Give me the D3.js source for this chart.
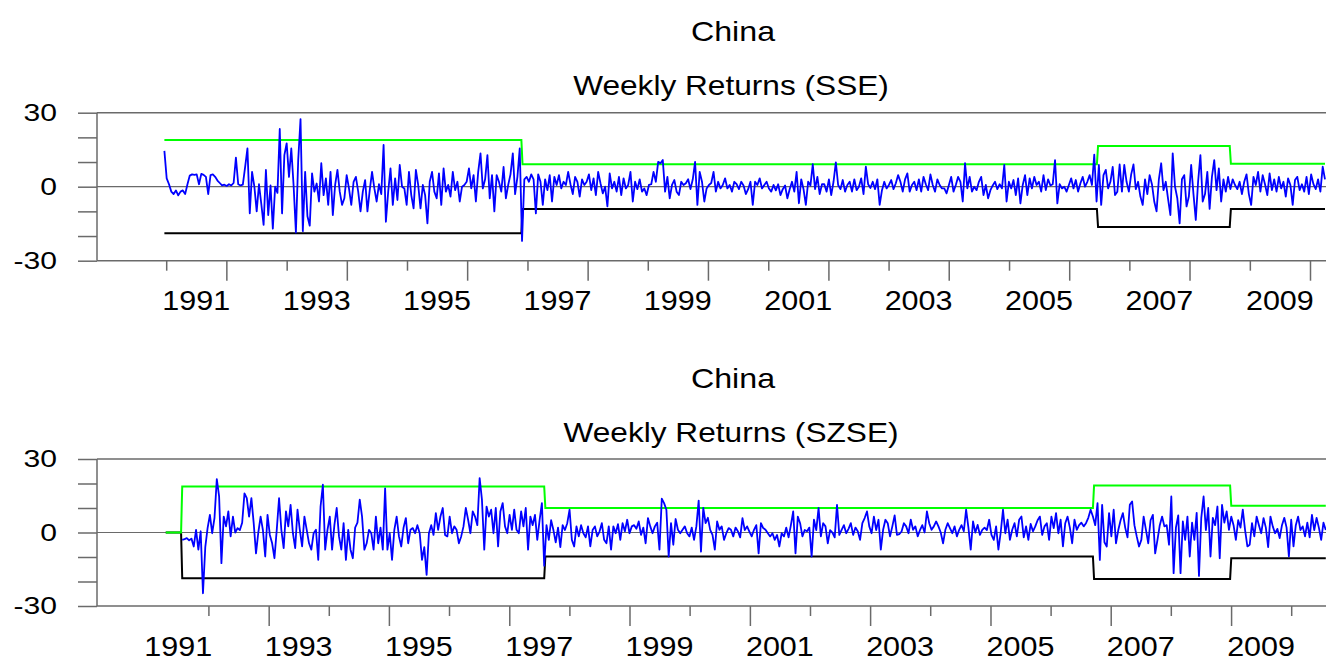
<!DOCTYPE html>
<html>
<head>
<meta charset="utf-8">
<script src="https://cdn.jsdelivr.net/npm/d3@7"></script>
<style>
  body { margin: 0; background: #fff; }
  text { font-family: "Liberation Sans", Arial, sans-serif; fill: #000; }
</style>
</head>
<body>
<svg id="chart" width="1326" height="661"></svg>
<script>
// SSE weekly returns (sampled every 2 weeks), one row per year
var sseStart = "1990-12-21";
var sseReturns = [
  14.5, 3.4, 1, -2, -3, -1.5, -3.5, -2, -1.5, -3, 1, 4.5, 5, 4.8, 5, 1, 5.2, 4.8, 4, -3, 4.7, 5, 4, 2.5, 1.5, 0.5,
  0.8, 0.3, 1, 0.5, 1.5, 11.8, 1, 0.5, 0.8, 8, 15.5, -10.8, 6, 0, -10, 1, -7, -15.5, 6.8, -11.5, 0.5, -17, 0, -2.5, 23.4, -10.8,
  12.8, 17.6, 4, 15.5, 0.5, -18.6, 10.8, 27.4, -18, 6, -12, -15.8, 5.4, -2, 1.3, -6, 9.5, -3.4, 3.4, -7.4, 6, -11.5, 0.7, 6.8, -2, -7.4,
  -4.7, 4.7, -0.7, -7.4, 2, 4, -2, -10, -2, 2.7, -10, -1.4, 6, -0.7, -6, 1, -3, 16.9, -14.2, -2, 7.4, -7.4, 3.4, -5.4, 8.8, 0,
  -0.7, -7.4, 6, -3.4, -8.8, 6.8, 0.7, -8.8, 0.7, -3.4, -14.9, 2, 6, -2, -4.7, 5.4, -7.4, 7.4, -2, 0.7, -4, 6, -1.4, 2, -6, 0,
  0.7, 2, 7.4, -0.7, 4.7, -6, 6, 13.5, -0.7, 3, 12.8, -4.7, 4.7, -10, 4.7, 2, -2, 8, -4.7, 0.7, 5, 13.5, -3, 4, 15.5, -22,
  3, 4, 2, 5, 3, -10.8, 5, 2, -7.4, 3, -1.4, 4.7, -6, 4, 0.7, 4.7, -0.7, 2, 0.7, 6, 1, -3, 4, 2, -4, 3,
  0.7, 2, 5, -1.4, 3.4, -3.4, 6, 1.4, -2.7, 0, -8, 5.4, -0.7, 2, -2, 4, -3.4, 3.4, -0.7, 0.7, 6, -6, 2, -1, 3, -2,
  -0.7, -3.4, 0.7, 1, 6, 2, 10.1, 9.5, 10.8, -2, 4, -4.7, 0.7, 2.7, -2, -3.4, 2, 0.7, 1.4, 3, -1, 3, 10.1, -7.4, 6, 2,
  -6, -0.7, 0.7, 1.5, 6, -2, 2, -0.7, 0.7, 3.4, -0.7, 0.7, -2, 2, 1, -1, 2, 0.5, -3, -1, 2, -7.4, 2, 0.7, 3.4, -0.7,
  0.7, 2, -0.7, -2, 0.7, -1.5, 1, -3.4, -1, 0.5, -4.7, -1, 2, -2, 6, -6.7, 3, -1, -7.4, 2, 0.5, 9.1, -1, 4, -3, 1,
  1, -2, 3, -3.4, 2, 9.9, 0.7, -1, 2.7, -2, 0.7, 2, -2, 3, -1.4, 0, 3.4, -3, 8.1, 1, -0.5, 2, -1, 3, -7.4, -1.4,
  2, -0.7, 0.7, 2.7, -1, 1.4, 4.7, 2, -2, 3, 5.4, -2, 0.7, 2, -1.4, 3, -2, 4, 1, -1.4, 5, 0.7, -2, 3, 0.7, -0.7,
  -0.7, -2.7, 0.7, 4, -2, 0.7, 4, 2, -6, 9.5, -0.7, 4, -2, 0, -1.4, 2, 4, -3.4, 0.7, -4.7, -1.4, 0.5, 2, -1, 1, -0.7,
  8.8, -6, 2, -0.7, 2.7, -3.4, 3.4, -6.8, 0.7, 4.7, -3.4, 3.4, -0.7, 4, 0.7, 2, -2, 4.7, -1.4, 3, 0.5, 1, 10.8, -6.8, 1, -0.7,
  0, -2, 0.7, 3.4, -0.7, 2.7, -2, 1.4, 4, 0, 2, 4.7, 0.7, 13, -6, 8.8, -7.4, 4.7, 6.8, -0.7, 2, 8, -3.4, -2, 9, -2,
  8.8, 2, -2, 5, 9, -1, 2, -4, -7.4, 3, -3, 4.7, 1, -6, -10, 3, 9.5, -1.4, 2, -5, -11.5, 13.5, 0, -4.7, -14.9, 3,
  4.7, -8, -4, 8.8, -3, -13.5, 2, 12.8, -6, -3, 6, -9, 4, 10.8, -1.4, 7.4, -6, 3, -2, 4, -1, 3, 0.7, -1, 2, -3,
  2, 5, -3, -7.4, 4, 0.7, 6, -2, 4.7, 1, -3.4, 5.4, -1.4, 3, -2, 4, -0.7, 2, -4, 3.4, 0.7, -7.4, 2.7, 4, -1.4, 1,
  -2, 4, -3, 5, 1, -1, 3, -2, 8.1, 3
];
var sseBandStart = ["1990-12-21", "1996-12-02", "2006-06-25", "2008-09-08"];
var sseUpper = [18.9, 9.1, 16.5, 9.3];
var sseLower = [-18.9, -9.0, -16.3, -9.0];

// SZSE weekly returns (sampled every 2 weeks)
var szseStart = "1991-07-26";
var szseReturns = [
  -3, -2.7, -2.3, -3.2, -2.5, -5.7, 1.1, -7, 0.5, -24.8, -6,
  1.8, 7.2, -0.3, 6, 21.8, 14.7, -12.5, 6.5, 2.5, 8.6, -1.6, 6.5, 0, 1.8, 1, 4, 16, 14, 6.5, 14, 3.8, -8.5, 0, 6.5, 1, -9.8,
  7.2, -1, -4.4, -10.5, 1.1, 14, 1, -6.4, 8.6, 2.5, 11.3, -0.3, -6.4, 9.3, 1.1, -5.7, 6.5, 1.1, -4.4, -7, -0.3, 1.1, -11.2, 10.6, 19.5, -7,
  1.1, 6.5, -7, 3, 10, -1.6, -7, 3.8, -11.2, 1.1, -7, -10.5, 2, 4, 13.4, 6.5, -7, -4.4, 1.1, -0.3, -7, 6.5, -4.4, 2, -7, 18,
  -7, -0.3, -11.2, 1.1, 6.5, -1.6, -5.7, 2, 5.9, -4.4, 1.1, 1.8, -0.3, 3, -0.3, -11.2, -6, -17.3, -0.3, 3, -1, 7.9, 1.1, 6.5, 10, -1,
  -1.6, 6.5, -0.3, 2.5, 1.1, -4.4, -1.6, 2.5, 10, 5.2, -0.3, 8.6, 6.5, 3, 22.2, 13.4, -7, 10.6, 6.5, 9.3, -0.3, 10, -5.7, 8.6, 12, 2.5,
  -0.3, 7.2, 1.1, 9.3, 1.1, -0.3, 8.6, 2.5, 10, -7, 6.5, 3, 7.2, -3, 5, 12, -13.6, 3, -3, 5, 1, -4, 2, -6, 3, 1,
  3.8, 9.3, -3, -5.7, 2.5, -1.6, 3, -0.3, -2, 2.5, -5.7, 1, 2.5, -1.6, 0.4, 3.8, -3, -4.4, 2.5, -7, 2.5, -0.3, 3.4, -3, 3.8, 0.5,
  5.2, -0.3, 2.5, 3, 1.5, 4.5, -1, 2, -4.4, 5.9, 2.5, -0.3, 2.5, 4, -7, 13.8, 12, 9.3, -9.8, 3.8, -5, 5.5, 1.1, -0.3, 1.1, 2.5,
  -0.3, -1.6, 2, -3, 2.5, 13, -7.8, 10, 3.8, 6, 1.1, -1, -7, 4.5, 1.1, 2.5, -3, -0.3, 1.8, 1.1, -1.6, 2, 0.5, -2, 5.9, 1,
  2.5, 0.4, -1.6, 1.1, 3, -8.5, 3.8, 1.8, 1.1, -0.3, -1.6, -0.3, -3, -1, -5.7, -0.3, -1.6, 2, -2, 3, 8.6, -8.5, 6.5, 3.8, -1.6, 1,
  0.5, 2, -9.8, 5.2, 1, 10, -1.6, 3.8, 2.5, -4.4, 1, 0, -2, 11.3, -1, 1.1, 3, -0.3, 1.5, 3.8, -1, 2, 0.5, -3, 3.8, 5.9,
  8.6, 2.5, -0.3, 6.5, 1, 5.2, -7, 1.1, 5.2, 3.8, -1.6, 2.5, 7, -1, -0.7, 0.4, 3.8, 2.5, -0.3, 5.2, 1.1, 2.5, -1.6, 1, 3, 0,
  8.6, 3.8, 1.1, 2.5, 4.5, 2.5, 0, -4.4, 1.1, 3.8, 1.8, -0.3, 2.5, -1.6, 1.1, 3, 0.5, 9.3, 2, -7, 4.5, 0, 3.1, -1, 1.1, 2,
  1, 5.2, -1, -3, 2.5, -7, 0, 9.3, -0.3, 5.2, -3, 1.1, 3.8, -1.6, 5.2, 6.5, -2, 2.5, -3, 3.5, 0.5, 2.5, 5, 6.5, -1, 2.5,
  3.8, -3, 6.5, 1.8, 7.9, -0.3, 5.2, -5.7, 3.8, 6.5, 2, -4.4, 5.2, 1.1, 3, 4, 2.5, 3.8, 6, 9.3, 6.5, 3, 12, -11.2, 11.3, -4,
  -5.7, 7.9, -1.6, 9.3, -4.4, 1, 5, 7.9, 2, -2, 11.3, 12.7, 3, -1.6, -5.7, -3, 6.5, 1.1, -4.4, 5, 7.2, -8.5, -3, 3, 6.5, 2.5,
  3, -5, 14.7, -16.6, 2, 7, -16.6, 4.5, -3, 6.5, -9.8, 4, -3, 8, -17.7, 6, 14.7, 1, 10, -9.8, 6, 3, 10.6, -10.5, 11.3, 4,
  8.6, 1.1, 6.5, 3, -3, 5, 2, 9.3, 1, -5.7, -5, 3.8, -1.6, 6.5, 3, -0.3, 5.9, 2, -6, 6.5, 2.5, -0.3, 1.5, -2.3, 3, 6,
  2, -9.8, 5.2, -5.7, 3, 6.5, 1, 2.5, -1.6, 4, -2, 7.2, 1, 6, 2, -3, 4, 1
];
var szseBandStart = ["1991-04-17", "1991-07-26", "1997-08-08", "2006-09-22", "2009-01-02"];
var szseUpper = [0, 18.8, 10.0, 19.2, 10.9];
var szseLower = [0, -18.7, -9.8, -19.0, -10.5];

var yTicks = [-30, -20, -10, 0, 10, 20, 30];
var yLabels = [-30, 0, 30];
var labelYears = [1991, 1993, 1995, 1997, 1999, 2001, 2003, 2005, 2007, 2009];

var parseDate = d3.timeParse("%Y-%m-%d");
var svg = d3.select("#chart");
var axisColor = "#6a6a6a";

// text drawn a bit wider than the font, like the original export
function label(g, x, y, txt, size, sx, anchor) {
    g.append("text")
        .attr("transform", "translate(" + x + "," + y + ") scale(" + sx + ",1)")
        .attr("text-anchor", anchor)
        .style("font-size", size + "px")
        .text(txt);
}

function bandPoints(starts, values, lastDate) {
    var pts = [];
    starts.forEach(function(s, i) {
        var d0 = parseDate(s);
        var d1 = i < starts.length - 1 ? d3.timeDay.offset(parseDate(starts[i + 1]), -7) : lastDate;
        pts.push({date: d0, v: values[i]});
        pts.push({date: d1, v: values[i]});
    });
    return pts;
}

function drawPanel(p) {
    var g = svg.append("g");

    var x = d3.scaleTime()
        .domain([new Date(1991, 0, 1), new Date(2010, 0, 1)])
        .range([p.x1991, p.x2010]);
    var y = d3.scaleLinear().domain([-30, 30]).range([p.yBottom, p.yTop]);

    var start = parseDate(p.start);
    var data = p.returns.map(function(v, i) {
        return {date: d3.timeDay.offset(start, 14 * i), v: v};
    });
    var lastDate = data[data.length - 1].date;

    // frame lines at -30, 0, 30
    g.selectAll("line.h").data([-30, 0, 30]).enter().append("line")
        .attr("x1", 97).attr("x2", 1326)
        .attr("y1", function(d) { return y(d); })
        .attr("y2", function(d) { return y(d); })
        .attr("stroke", axisColor)
        .attr("stroke-width", function(d) { return d === 0 ? 1.2 : 1.5; });

    g.append("line")
        .attr("x1", 97).attr("x2", 97)
        .attr("y1", y(30)).attr("y2", y(-30))
        .attr("stroke", axisColor).attr("stroke-width", 1.5);

    // y ticks
    var yAxis = g.append("g")
        .attr("transform", "translate(97,0)")
        .call(d3.axisLeft(y).tickValues(yTicks).tickSize(19).tickFormat(""));
    yAxis.select(".domain").remove();
    yAxis.selectAll(".tick line").attr("stroke", axisColor).attr("stroke-width", 1.5);

    yLabels.forEach(function(v) {
        label(g, 57, y(v) + 8.4, String(v), 23.5, 1.28, "end");
    });

    // x ticks, long and short
    var years = d3.range(1991, 2011).filter(function(yr) { return yr >= p.firstTick; });
    var longYears = years.filter(function(yr) { return yr % 2 === p.longParity; });
    var shortYears = years.filter(function(yr) { return yr % 2 !== p.longParity; });
    [[longYears, 20], [shortYears, 10]].forEach(function(t) {
        var ax = g.append("g")
            .attr("transform", "translate(0," + y(-30) + ")")
            .call(d3.axisBottom(x)
                .tickValues(t[0].map(function(yr) { return new Date(yr, 0, 1); }))
                .tickSize(t[1]).tickFormat(""));
        ax.select(".domain").remove();
        ax.selectAll(".tick line").attr("stroke", axisColor).attr("stroke-width", 1.5);
    });

    labelYears.forEach(function(yr) {
        label(g, x(new Date(yr, 6, 2)), y(-30) + 49.5, String(yr), 27, 1.13, "middle");
    });

    // bands and returns
    var line = d3.line()
        .x(function(d) { return x(d.date); })
        .y(function(d) { return y(d.v); });

    g.append("path")
        .datum(bandPoints(p.bandStart, p.lower, lastDate))
        .attr("fill", "none").attr("stroke", "#000").attr("stroke-width", 2)
        .attr("d", line);
    g.append("path")
        .datum(bandPoints(p.bandStart, p.upper, lastDate))
        .attr("fill", "none").attr("stroke", "#00ff00").attr("stroke-width", 2)
        .attr("d", line);
    g.append("path")
        .datum(data)
        .attr("fill", "none").attr("stroke", "#0000ff").attr("stroke-width", 1.8)
        .attr("stroke-linejoin", "round")
        .attr("d", line);

    // titles
    label(g, 733, p.titleY, "China", 28.5, 1.13, "middle");
    label(g, 731, p.titleY + 54, p.subtitle, 28.5, 1.11, "middle");
}

drawPanel({
    start: sseStart, returns: sseReturns,
    bandStart: sseBandStart, upper: sseUpper, lower: sseLower,
    x1991: 166.2, x2010: 1310,
    yTop: 112.7, yBottom: 260.7,
    firstTick: 1991, longParity: 0,
    titleY: 41, subtitle: "Weekly Returns (SSE)"
});

drawPanel({
    start: szseStart, returns: szseReturns,
    bandStart: szseBandStart, upper: szseUpper, lower: szseLower,
    x1991: 148.3, x2010: 1291.2,
    yTop: 459, yBottom: 606,
    firstTick: 1992, longParity: 1,
    titleY: 387.5, subtitle: "Weekly Returns (SZSE)"
});
</script>
</body>
</html>
